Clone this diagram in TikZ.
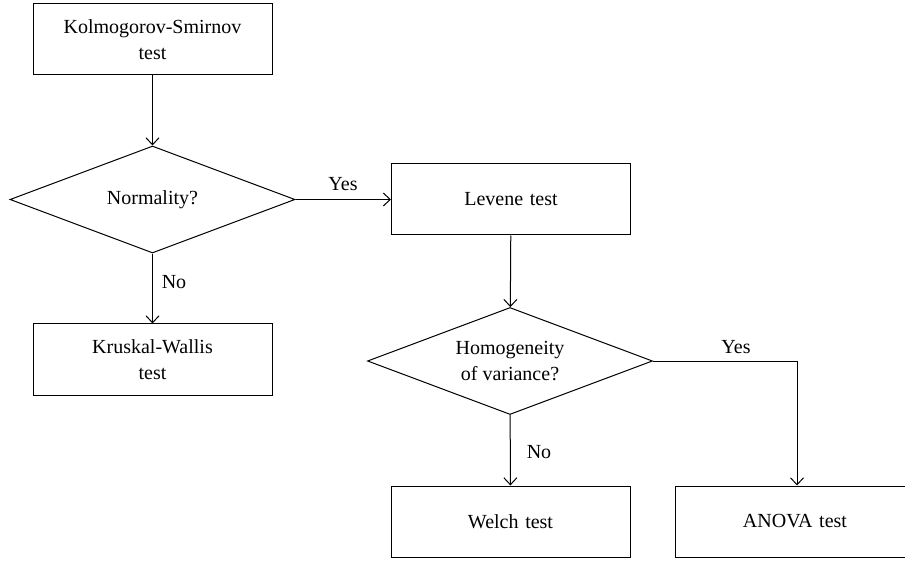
\documentclass[tikz,border=0pt]{standalone}
\usepackage{fontspec}
\setmainfont{Liberation Serif}
\usetikzlibrary{shapes.geometric,arrows.meta}
\begin{document}
\begin{tikzpicture}[x=1pt,y=-1pt,
  every node/.style={font=\fontsize{20}{26}\selectfont},
  box/.style={draw,line width=1pt,minimum width=239pt,minimum height=71pt,inner sep=0pt,align=center,text width=230pt},
  dec/.style={draw,line width=1pt,diamond,minimum width=285pt,minimum height=107pt,inner sep=0pt,aspect=2.66,align=center},
  conn/.style={line width=1pt,-{Straight Barb[length=7pt,width=13pt,line width=1pt]}},
  lbl/.style={inner sep=0pt}]
\useasboundingbox (0,0) rectangle (905,561);
\clip (0,0) rectangle (905,561);
\fill[white] (0,0) rectangle (905,561);
\node[box] (ks) at (152.5,39.5) {Kolmogorov-Smirnov\\test};
\node[dec] (norm) at (152.5,199.5) {Normality?};
\node[box] (lev) at (511,199.5) {Levene test};
\node[box] (kw) at (152.5,359.5) {Kruskal-Wallis\\test};
\node[dec] (hom) at (510,361) {Homogeneity\\of variance?};
\node[box] (wel) at (510.5,521.5) {Welch test};
\node[box] (ano) at (795,521.5) {ANOVA test};
\coordinate (corner) at (797,361);
\draw[conn] (ks) -- (norm);
\draw[conn] (norm) -- (lev);
\draw[conn] (norm) -- (kw);
\draw[conn] (lev) -- (hom);
\draw[conn] (hom) -- (wel);
\draw[conn] (hom.east) -- (corner) -- (corner |- ano.north);
\node[lbl] (y1) at (343,184) {Yes};
\node[lbl] (n1) at (174,282) {No};
\node[lbl] (n2) at (539,452) {No};
\node[lbl] (y2) at (736,347) {Yes};
\end{tikzpicture}
\end{document}
